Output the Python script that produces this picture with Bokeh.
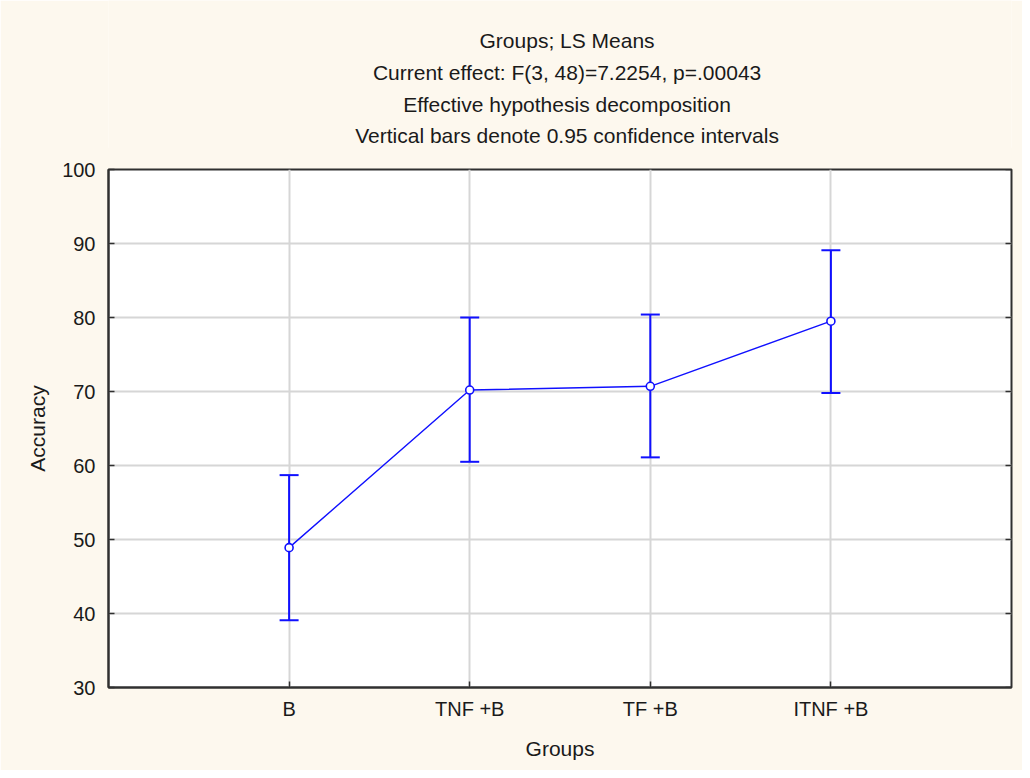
from bokeh.plotting import figure
from bokeh.layouts import column
from bokeh.models import ColumnDataSource, Whisker, TeeHead, Range1d, FixedTicker
from bokeh.core.properties import value
from bokeh.embed import file_html
from bokeh.resources import INLINE

# ---- data ----
groups = ["B", "TNF +B", "TF +B", "ITNF +B"]
means = [48.9, 70.2, 70.7, 79.5]
lower = [39.1, 60.5, 61.1, 69.8]
upper = [58.7, 80.0, 80.4, 89.1]
y_ticks = [30, 40, 50, 60, 70, 80, 90, 100]
title_lines = [
    "Groups; LS Means",
    "Current effect: F(3, 48)=7.2254, p=.00043",
    "Effective hypothesis decomposition",
    "Vertical bars denote 0.95 confidence intervals",
]

xs = list(range(len(groups)))

W = 1022
TOP_H = 150
OVERLAP = 3
MAIN_H = 620 + OVERLAP
BG = "#FDF8EE"
BLUE = "#1010FF"
FONT = "Liberation Sans"
TXT = "#1a1a1a"

# ---- title block (separate strip so the lines can be centred freely) ----
t = figure(width=W, height=TOP_H, x_range=Range1d(0, W), y_range=Range1d(0, TOP_H),
           x_axis_type=None, y_axis_type=None, output_backend="svg",
           toolbar_location=None, min_border=0, outline_line_color=None,
           background_fill_color=BG, border_fill_color=BG)
t.grid.visible = False
line_gap = 31.7
first_y = TOP_H - 40.3
t.text(x=[519] * len(title_lines),
       y=[first_y - line_gap * i for i in range(len(title_lines))],
       text=title_lines, text_align="center", text_baseline="middle",
       text_font=value(FONT), text_font_size="21px", text_color=TXT)

# ---- main plot ----
p = figure(width=W, height=MAIN_H,
           x_range=Range1d(-1, len(groups)), y_range=Range1d(30, 100),
           output_backend="svg", toolbar_location=None,
           background_fill_color="white", border_fill_color=BG,
           min_border_left=108, min_border_right=11,
           min_border_top=19 + OVERLAP, min_border_bottom=83,
           outline_line_color="#303030", outline_line_width=2,
           margin=(-OVERLAP, 0, 0, 0))

src = ColumnDataSource(dict(x=xs, mean=means, lower=lower, upper=upper))

xa = p.xaxis[0]
xa.ticker = FixedTicker(ticks=xs)
xa.major_label_overrides = {i: g for i, g in enumerate(groups)}
ya = p.yaxis[0]
ya.ticker = FixedTicker(ticks=y_ticks)

for ax in (xa, ya):
    ax.major_tick_in = 6
    ax.major_tick_out = 0
    ax.minor_tick_line_color = None
    ax.axis_line_color = "#303030"
    ax.axis_line_width = 2
    ax.major_tick_line_color = "#303030"
    ax.major_tick_line_width = 1.5
    ax.major_label_text_font = FONT
    ax.major_label_text_font_size = "20px"
    ax.major_label_text_color = TXT
    ax.axis_label_text_font = FONT
    ax.axis_label_text_font_size = "21px"
    ax.axis_label_text_font_style = "normal"
    ax.axis_label_text_color = TXT

xa.axis_label = "Groups"
xa.major_label_standoff = 10
xa.axis_label_standoff = 14
ya.axis_label = "Accuracy"
ya.major_label_standoff = 13
ya.axis_label_standoff = 10

p.xgrid.ticker = FixedTicker(ticks=xs)
p.ygrid.ticker = FixedTicker(ticks=y_ticks)
for g in (p.xgrid[0], p.ygrid[0]):
    g.grid_line_color = "#D6D6D6"
    g.grid_line_width = 2

# inward ticks on the right frame edge (dash markers half clipped by the frame)
p.scatter(x=[len(groups)] * len(y_ticks), y=y_ticks, marker="dash", size=12,
          line_color="#303030", line_width=1.5)

# data marks
p.add_layout(Whisker(source=src, base="x", upper="upper", lower="lower",
                     line_color=BLUE, line_width=2,
                     upper_head=TeeHead(size=19, line_color=BLUE, line_width=2),
                     lower_head=TeeHead(size=19, line_color=BLUE, line_width=2)))
p.line("x", "mean", source=src, line_color=BLUE, line_width=1.4)
p.scatter("x", "mean", source=src, marker="circle", size=8,
          fill_color="white", line_color=BLUE, line_width=1.6)

layout = column(t, p, spacing=0)
open("out.html", "w").write(file_html(layout, INLINE))
